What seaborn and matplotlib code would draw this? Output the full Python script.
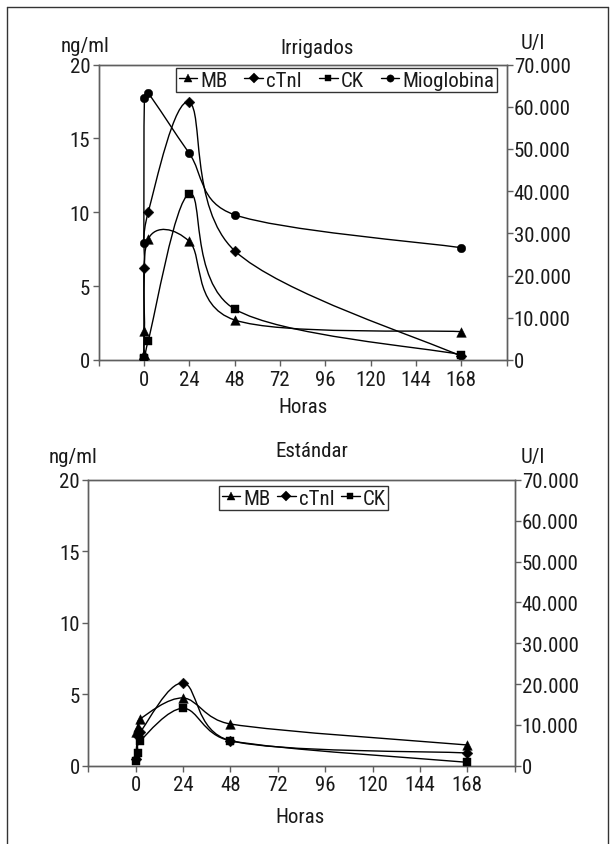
import os
import matplotlib
matplotlib.use("Agg")
import numpy as np
import pandas as pd
import matplotlib.pyplot as plt
import seaborn as sns
from matplotlib import font_manager
from matplotlib.font_manager import FontProperties
from matplotlib.textpath import TextPath
from matplotlib.path import Path
from matplotlib.patches import PathPatch
from matplotlib.lines import Line2D
from matplotlib.ticker import FuncFormatter, MultipleLocator

# ---------------- data ----------------
hour_ticks = [-24, 0, 24, 48, 72, 96, 120, 144, 168, 192]

# Irrigados (top)
top_t = [0, 0.3, 2.3, 24, 48, 168]
top_mb = [0.41, 1.98, 8.19, 8.03, 2.71, 1.92]          # ng/ml
top_ctni = [0.10, 6.21, 10.0, 17.44, 7.40, 0.25]       # ng/ml
top_mio = [7.92, 17.71, 18.05, 13.99, 9.83, 7.60]      # ng/ml
top_ck = [300, 500, 4570, 39330, 12080, 1255]          # U/l

# Estándar (bottom)
bot_t = [0, 1, 2.2, 24, 48, 168]
bot_mb = [2.34, 2.69, 3.27, 4.74, 2.92, 1.45]          # ng/ml
bot_ctni = [0.50, 2.10, 2.34, 5.79, 1.75, 0.89]        # ng/ml
bot_ck = [1225, 3000, 6000, 14060, 6125, 830]          # U/l

# ---------------- style ----------------
sns.set_theme(style="white")

chosen = None
cands = ["liberationsansnarrow-regular", "robotocondensed-regular", "roboto_condensed-regular",
         "notosans-condensed.", "opensans-condensedregular", "opensans_condensed-regular",
         "dejavusanscondensed.ttf"]
for c in cands:
    for e in font_manager.fontManager.ttflist:
        if c in os.path.basename(e.fname).lower():
            chosen = e
            break
    if chosen is not None:
        break
if chosen is not None:
    plt.rcParams["font.family"] = [chosen.name, "DejaVu Sans"]
    plt.rcParams["font.stretch"] = chosen.stretch
else:
    plt.rcParams["font.family"] = ["Liberation Sans", "DejaVu Sans"]

# size the font so that "70.000" is about as wide as in the reference (~55 px)
_fp = FontProperties(family=plt.rcParams["font.family"], stretch=plt.rcParams["font.stretch"])
_w = TextPath((0, 0), "70.000", size=10, prop=_fp).get_extents().width * 100 / 72 / 10
FS = float(min(15.5, 55.0 / _w))

GREY = "#5f5f5f"
TXT = "#1a1a1a"

W, H = 615, 845
fig = plt.figure(figsize=(W / 100, H / 100), dpi=100)
fig.patch.set_facecolor("white")


def px(x, y):
    return x / W, 1 - y / H


def smooth_path(ax, xs, ys):
    """Excel-like smoothed line: Catmull-Rom Bezier built in display space."""
    pts = ax.transData.transform(np.column_stack([xs, ys]).astype(float))
    n = len(pts)
    verts = [pts[0]]
    codes = [Path.MOVETO]
    for i in range(n - 1):
        p0 = pts[i - 1] if i > 0 else pts[i]
        p1, p2 = pts[i], pts[i + 1]
        p3 = pts[i + 2] if i + 2 < n else pts[i + 1]
        seg = np.hypot(*(p2 - p1))
        d1 = (p2 - p0) / 6.0
        d2 = (p3 - p1) / 6.0
        lim = 0.5 * seg
        for d in (d1, d2):
            ln = np.hypot(*d)
            if ln > lim and ln > 0:
                d *= lim / ln
        verts += [p1 + d1, p2 - d2, p2]
        codes += [Path.CURVE4] * 3
    verts = ax.transData.inverted().transform(np.array(verts))
    return Path(verts, codes)


MARK = {"MB": ("^", 48), "cTnI": ("D", 30), "CK": ("s", 34), "Mioglobina": ("o", 38)}


def draw_series(ax, t, v, name):
    ax.add_patch(PathPatch(smooth_path(ax, t, v), facecolor="none", edgecolor="black",
                           lw=1.0, zorder=2))
    m, s = MARK[name]
    df = pd.DataFrame({"t": t, "v": v})
    sns.scatterplot(data=df, x="t", y="v", marker=m, s=s, color="black",
                    edgecolor="black", linewidth=0.3, ax=ax, zorder=3, legend=False)
    ax.set_xlabel("")
    ax.set_ylabel("")


def thousands(v, _):
    if v == 0:
        return "0"
    return f"{int(v):,}".replace(",", ".")


def style_axes(ax, ax2):
    ax.set_xlim(-24, 192)
    ax.set_ylim(0, 20)
    ax2.set_ylim(0, 70000)
    ax.set_xticks(hour_ticks)
    ax.set_xticklabels(["" if h in (-24, 192) else str(h) for h in hour_ticks])
    ax.yaxis.set_major_locator(MultipleLocator(5))
    ax2.yaxis.set_major_locator(MultipleLocator(10000))
    ax2.yaxis.set_major_formatter(FuncFormatter(thousands))
    for a in (ax, ax2):
        for sp in a.spines.values():
            sp.set_color(GREY)
            sp.set_linewidth(1.0)
        a.tick_params(axis="both", direction="out", length=4, width=1.0, color=GREY,
                      labelsize=FS, labelcolor=TXT, pad=2)
        a.grid(False)
    ax.tick_params(axis="y", left=True, right=False)
    ax.tick_params(axis="x", bottom=True, pad=3)
    ax2.tick_params(axis="y", right=True, left=False, pad=1)
    ax.set_facecolor("none")


def legend(names_, x0, y0, colsp):
    handles = []
    for n in names_:
        m, s = MARK[n]
        handles.append(Line2D([0], [0], color="black", lw=1.0, marker=m,
                              markersize=np.sqrt(s) * 0.85, markeredgewidth=0.3))
    lg = fig.legend(handles, names_, loc="upper left", bbox_to_anchor=px(x0, y0),
                    ncol=len(names_), fontsize=FS, frameon=True, fancybox=False,
                    handlelength=0.9, handletextpad=0.15, columnspacing=colsp,
                    borderpad=0.12, borderaxespad=0)
    fr = lg.get_frame()
    fr.set_edgecolor("black")
    fr.set_linewidth(1.0)
    fr.set_facecolor("white")
    for t in lg.get_texts():
        t.set_color(TXT)
    return lg


# ---------------- top chart ----------------
ax1 = fig.add_axes([98.5 / W, 1 - 361 / H, (506.7 - 98.5) / W, (361 - 65.5) / H])
ax1b = ax1.twinx()
style_axes(ax1, ax1b)
draw_series(ax1, top_t, top_mio, "Mioglobina")
draw_series(ax1, top_t, top_ctni, "cTnI")
draw_series(ax1, top_t, top_mb, "MB")
draw_series(ax1b, top_t, top_ck, "CK")
ax1.set_xlim(-24, 192)
ax1.set_ylim(0, 20)
ax1b.set_ylim(0, 70000)
legend(["MB", "cTnI", "CK", "Mioglobina"], 176, 69, 0.8)

fig.text(*px(85, 47), "ng/ml", ha="center", va="center", fontsize=FS, color=TXT)
fig.text(*px(317, 48), "Irrigados", ha="center", va="center", fontsize=FS, color=TXT)
fig.text(*px(533, 43), "U/l", ha="center", va="center", fontsize=FS, color=TXT)
fig.text(*px(303, 408), "Horas", ha="center", va="center", fontsize=FS, color=TXT)

# ---------------- bottom chart ----------------
ax2 = fig.add_axes([88.3 / W, 1 - 766.7 / H, (514.7 - 88.3) / W, (766.7 - 481) / H])
ax2b = ax2.twinx()
style_axes(ax2, ax2b)
draw_series(ax2, bot_t, bot_ctni, "cTnI")
draw_series(ax2, bot_t, bot_mb, "MB")
draw_series(ax2b, bot_t, bot_ck, "CK")
ax2.set_xlim(-24, 192)
ax2.set_ylim(0, 20)
ax2b.set_ylim(0, 70000)
legend(["MB", "cTnI", "CK"], 219, 487, 0.3)

fig.text(*px(73, 458), "ng/ml", ha="center", va="center", fontsize=FS, color=TXT)
fig.text(*px(312, 452), "Estándar", ha="center", va="center", fontsize=FS, color=TXT)
fig.text(*px(533, 458), "U/l", ha="center", va="center", fontsize=FS, color=TXT)
fig.text(*px(300, 818), "Horas", ha="center", va="center", fontsize=FS, color=TXT)

# ---------------- outer frame ----------------
for (xa, ya, xb, yb) in [(7, 8, 7, 850), (7, 8, 608, 8), (608, 8, 608, 850)]:
    fig.add_artist(Line2D([xa / W, xb / W], [1 - ya / H, 1 - yb / H], color="#333333",
                          lw=1.0, transform=fig.transFigure))

fig.savefig("out.png", dpi=100)
